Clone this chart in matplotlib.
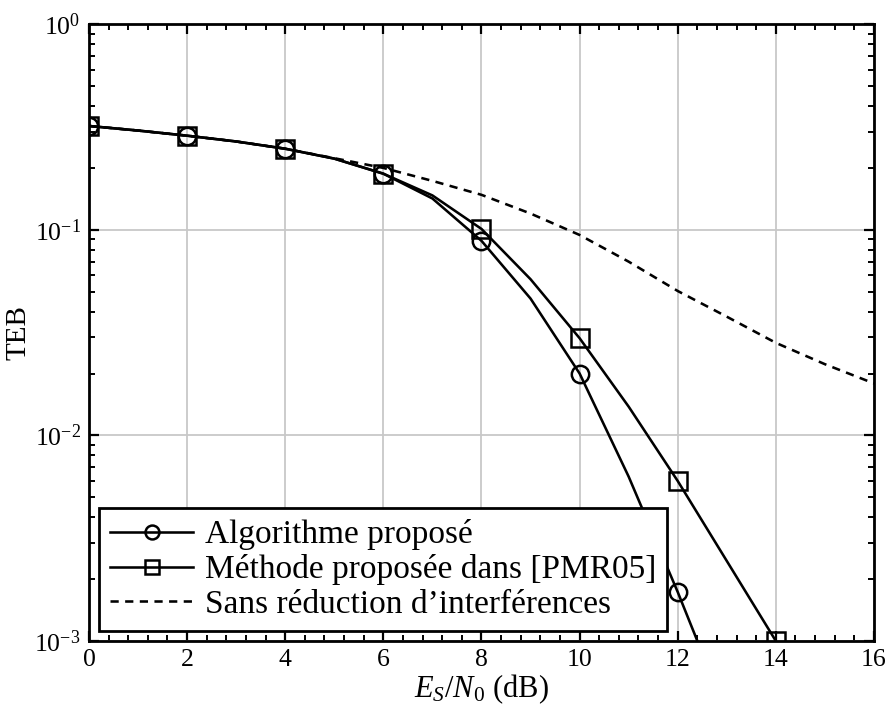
import matplotlib
matplotlib.use("Agg")
import matplotlib.pyplot as plt
from matplotlib.ticker import MultipleLocator, LogLocator, NullFormatter

# Es/N0 grid (dB)
snr = [0, 1, 2, 3, 4, 5, 6, 7, 8, 9, 10, 11, 12, 13, 14, 15, 16]

# Bit error rate of each receiver
ber_proposed = [0.320, 0.304, 0.287, 0.269, 0.248, 0.222, 0.1875, 0.142, 0.0884,
                0.0463, 0.0200, 0.0063, 0.00173, 4.4e-4, 1.1e-4]
ber_pmr05 = [0.320, 0.304, 0.287, 0.269, 0.248, 0.222, 0.1875, 0.147, 0.101,
             0.0575, 0.0297, 0.0138, 0.0060, 0.00245, 0.00100]
ber_none = [0.320, 0.304, 0.287, 0.269, 0.248, 0.223, 0.200, 0.173, 0.148,
            0.120, 0.0944, 0.0700, 0.0504, 0.0378, 0.0282, 0.0222, 0.0179]

labels = ["Algorithme proposé", "Méthode proposée dans [PMR05]",
          "Sans réduction d’interférences"]

plt.rcParams["font.family"] = ["Liberation Serif", "DejaVu Serif"]
plt.rcParams["mathtext.fontset"] = "custom"
plt.rcParams["mathtext.rm"] = "Liberation Serif"
plt.rcParams["mathtext.it"] = "Liberation Serif:italic"
plt.rcParams["mathtext.bf"] = "Liberation Serif:bold"
plt.rcParams["axes.unicode_minus"] = False

fig = plt.figure(figsize=(8.9, 7.13), dpi=100)
ax = fig.add_axes([0.1, 0.101, 0.882, 0.865])

lw = 1.85
ax.plot(snr[:len(ber_proposed)], ber_proposed, color="black", lw=lw,
        marker="o", markersize=12.5, markerfacecolor="none", markeredgewidth=1.8,
        markevery=2, label=labels[0], zorder=3)
ax.plot(snr[:len(ber_pmr05)], ber_pmr05, color="black", lw=lw,
        marker="s", markersize=12.5, markerfacecolor="none", markeredgewidth=1.8,
        markevery=2, label=labels[1], zorder=3)
ax.plot(snr, ber_none, color="black", lw=lw, linestyle=(0, (3.2, 2.5)),
        label=labels[2], zorder=3)

ax.set_yscale("log")
ax.set_xlim(0, 16)
ax.set_ylim(1e-3, 1)
ax.xaxis.set_major_locator(MultipleLocator(2))
ax.xaxis.set_minor_locator(MultipleLocator(0.4))
ax.yaxis.set_major_locator(LogLocator(base=10, numticks=10))
ax.yaxis.set_minor_locator(LogLocator(base=10, subs=range(2, 10), numticks=20))
ax.yaxis.set_minor_formatter(NullFormatter())

ax.grid(True, which="major", color="#c8c8c8", lw=1.3, zorder=0)
ax.set_axisbelow(True)

ax.tick_params(which="both", direction="in", top=True, right=True,
               labelsize=18.5, pad=6)
ax.tick_params(which="major", length=7, width=1.6)
ax.tick_params(which="minor", length=4, width=1.4)
for sp in ax.spines.values():
    sp.set_linewidth(2)

ax.set_xlabel(r"$E_S/N_0$ (dB)", fontsize=22, labelpad=1)
ax.set_ylabel("TEB", fontsize=21, labelpad=2)

leg = ax.legend(loc="lower left", fontsize=24, frameon=True, fancybox=False,
                edgecolor="black", framealpha=1, handlelength=2.5,
                handletextpad=0.35, borderpad=0.33, labelspacing=0.12,
                borderaxespad=0.3, markerscale=0.8)
leg.get_frame().set_linewidth(2)

fig.savefig("out.png", dpi=100)
